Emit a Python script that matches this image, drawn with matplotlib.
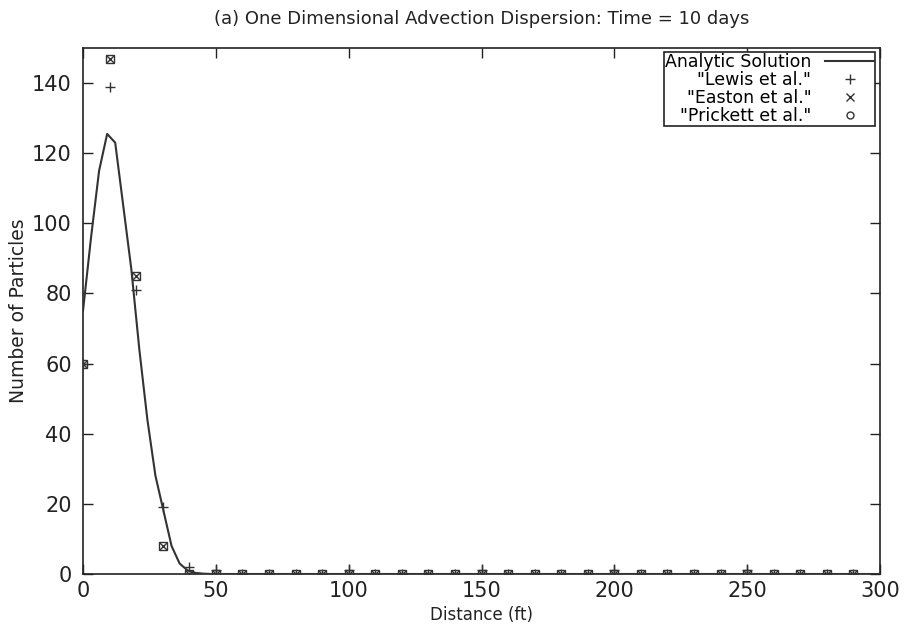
import matplotlib
matplotlib.use("Agg")
import matplotlib.pyplot as plt

plt.rcParams['font.family'] = ['DejaVu Sans']

analytic_x = [0, 3.03, 6.06, 9.09, 12.12, 15.15, 18.18, 21.21, 24.24, 27.27,
              30.30, 33.33, 36.36, 39.39, 42.42, 45.45, 48.48, 51.5, 300]
analytic_y = [75, 96, 115, 125.5, 123, 105, 87, 64, 44, 28,
              18, 8, 3, 1, 0.3, 0.1, 0, 0, 0]

dist = list(range(0, 300, 10))
lewis = [60, 139, 81, 19, 2, 1, 0, 0, 0, 0,
         1, 0, 0, 0, 0, 1, 0, 0, 0, 0,
         1, 0, 0, 0, 0, 1, 0, 0, 0, 0]
easton = [60, 147, 85, 8, 0, 0, 0, 0, 0, 0,
          0, 0, 0, 0, 0, 0, 0, 0, 0, 0,
          0, 0, 0, 0, 0, 0, 0, 0, 0, 0]
prickett = [60, 147, 85, 8, 0, 0, 0, 0, 0, 0,
            0, 0, 0, 0, 0, 0, 0, 0, 0, 0,
            0, 0, 0, 0, 0, 0, 0, 0, 0, 0]

xticks = [0, 50, 100, 150, 200, 250, 300]
yticks = [0, 20, 40, 60, 80, 100, 120, 140]

fig = plt.figure(figsize=(9.09, 6.31), dpi=100)
ax = fig.add_axes([83/909, 57/631, 797/909, 526/631])

col = '#333333'
ax.plot(analytic_x, analytic_y, color=col, lw=1.5, label='Analytic Solution', zorder=3)
ax.plot(dist, lewis, ls='none', marker='+', ms=7.5, mew=1.0, color=col,
        label='"Lewis et al."', zorder=4)
ax.plot(dist, easton, ls='none', marker='x', ms=6, mew=1.0, color=col,
        label='"Easton et al."', zorder=4)
ax.plot(dist, prickett, ls='none', marker='s', ms=5.5, mew=1.0, mfc='none', color=col,
        zorder=4)
ax.plot([], [], ls='none', marker='o', ms=5, mew=1.0, mfc='none', color=col,
        label='"Prickett et al."')

ax.set_xlim(0, 300)
ax.set_ylim(0, 150)
ax.set_xticks(xticks)
ax.set_yticks(yticks)
ax.tick_params(direction='in', top=True, right=True, length=7, width=1,
               labelsize=15, colors='#222222')
ax.tick_params(axis='y', pad=8)
ax.tick_params(axis='x', pad=5)
for s in ax.spines.values():
    s.set_linewidth(1.2)
    s.set_color('#222222')

ax.set_xlabel('Distance (ft)', fontsize=12, color='#222222', labelpad=4)
ax.set_ylabel('Number of Particles', fontsize=13.5, color='#222222', labelpad=3)
ax.set_title('(a) One Dimensional Advection Dispersion: Time = 10 days',
             fontsize=13, color='#222222', pad=17)

leg = ax.legend(loc='upper right', bbox_to_anchor=(0.994, 0.993), borderaxespad=0,
                markerfirst=False, fancybox=False, framealpha=1, edgecolor='#222222',
                fontsize=12.5, labelspacing=0.0, handlelength=2.8, handletextpad=0.8,
                borderpad=0.08)
leg.get_frame().set_linewidth(1.2)

fig.savefig('out.png', dpi=100)
